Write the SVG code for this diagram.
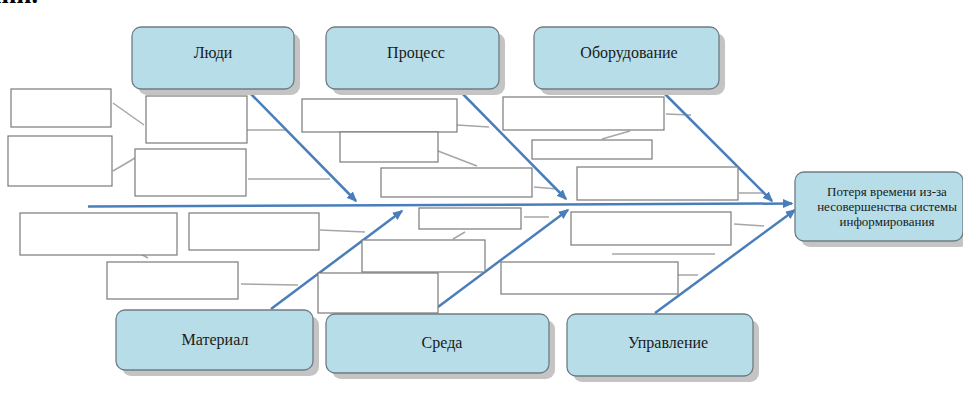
<svg xmlns="http://www.w3.org/2000/svg" width="963" height="403" viewBox="0 0 963 403">
<style>
.cat{fill:#b7dde8;stroke:#6f7c82;stroke-width:1.3}
.sh{fill:#c4c4c4}
.lbl{font-family:"Liberation Serif","Times New Roman",serif;font-size:16px;fill:#1a1a1a;text-anchor:middle}
.eff{font-family:"Liberation Serif","Times New Roman",serif;font-size:13px;fill:#1a1a1a;text-anchor:middle}
.bx{fill:#ffffff;stroke:#7a7a7a;stroke-width:1.2}
.g{stroke:#a6a6a6;stroke-width:1.5;fill:none}
.b{stroke:#4a7ebb;stroke-width:2.5;fill:none}
</style>
<defs>
<marker id="ah" markerWidth="4.2" markerHeight="3.6" refX="6" refY="3" orient="auto" markerUnits="strokeWidth" viewBox="0 0 7 6">
<path d="M0,0 L7,3 L0,6 Z" fill="#4a7ebb"/>
</marker>
</defs>
<rect width="963" height="403" fill="#ffffff"/>
<text x="38" y="3" font-family="Liberation Serif,serif" font-size="26" font-weight="bold" text-anchor="end" fill="#000">нии.</text>

<g id="connectors">
<line class="g" x1="113" y1="103" x2="144" y2="125"/>
<line class="g" x1="113" y1="171" x2="135" y2="158"/>
<line class="g" x1="247" y1="130" x2="287" y2="130"/>
<line class="g" x1="248" y1="179" x2="330" y2="179"/>
<line class="g" x1="457" y1="125" x2="489" y2="127"/>
<line class="g" x1="438" y1="151" x2="477" y2="166"/>
<line class="g" x1="534" y1="187" x2="557" y2="189"/>
<line class="g" x1="666" y1="114" x2="691" y2="115"/>
<line class="g" x1="602" y1="139" x2="630" y2="131"/>
<line class="g" x1="739" y1="193" x2="763" y2="193"/>
<line class="g" x1="135" y1="251" x2="148" y2="258"/>
<line class="g" x1="320" y1="230" x2="365" y2="232"/>
<line class="g" x1="241" y1="284" x2="298" y2="285"/>
<line class="g" x1="524" y1="217" x2="549" y2="217"/>
<line class="g" x1="453" y1="239" x2="465" y2="232"/>
<line class="g" x1="734" y1="224" x2="764" y2="226"/>
<line class="g" x1="612" y1="254" x2="715" y2="254"/>
<line class="g" x1="678" y1="275" x2="698" y2="275"/>
<line class="b" x1="88" y1="206.5" x2="792" y2="203.5" marker-end="url(#ah)"/>
<line class="b" x1="250" y1="93" x2="356" y2="201" marker-end="url(#ah)"/>
<line class="b" x1="458" y1="89" x2="566" y2="199" marker-end="url(#ah)"/>
<line class="b" x1="663" y1="92" x2="772" y2="201" marker-end="url(#ah)"/>
<line class="b" x1="271" y1="309" x2="402" y2="211" marker-end="url(#ah)"/>
<line class="b" x1="438" y1="307" x2="568" y2="210" marker-end="url(#ah)"/>
<line class="b" x1="655" y1="313" x2="795" y2="210" marker-end="url(#ah)"/>
</g>

<g id="cause-boxes">
<rect class="bx" x="11" y="89" width="100" height="38"/>
<rect class="bx" x="8" y="136" width="104" height="50"/>
<rect class="bx" x="146" y="96" width="101" height="47"/>
<rect class="bx" x="135" y="149" width="111" height="47"/>
<rect class="bx" x="302" y="99" width="155" height="33"/>
<rect class="bx" x="340" y="132" width="98" height="30"/>
<rect class="bx" x="381" y="168" width="151" height="29"/>
<rect class="bx" x="503" y="97" width="161" height="33"/>
<rect class="bx" x="532" y="140" width="120" height="19"/>
<rect class="bx" x="577" y="167" width="161" height="33"/>
<rect class="bx" x="20" y="213" width="157" height="42"/>
<rect class="bx" x="189" y="213" width="130" height="37"/>
<rect class="bx" x="107" y="262" width="131" height="37"/>
<rect class="bx" x="318" y="273" width="120" height="40"/>
<rect class="bx" x="362" y="240" width="123" height="32"/>
<rect class="bx" x="419" y="208" width="102" height="21"/>
<rect class="bx" x="571" y="212" width="160" height="33"/>
<rect class="bx" x="501" y="262" width="177" height="32"/>
</g>

<g id="people">
<rect class="sh" x="138" y="33" width="162" height="62" rx="9"/>
<rect class="cat" x="132" y="27" width="162" height="62" rx="9"/>
<text class="lbl" x="213" y="58">Люди</text>
</g>
<g id="process">
<rect class="sh" x="332" y="33" width="173" height="62" rx="9"/>
<rect class="cat" x="326" y="27" width="173" height="62" rx="9"/>
<text class="lbl" x="416" y="58">Процесс</text>
</g>
<g id="equipment">
<rect class="sh" x="540" y="33" width="185" height="62" rx="9"/>
<rect class="cat" x="534" y="27" width="185" height="62" rx="9"/>
<text class="lbl" x="629" y="58">Оборудование</text>
</g>
<g id="effect">
<rect class="sh" x="801" y="178" width="168" height="69" rx="9"/>
<rect class="cat" x="795" y="172" width="168" height="69" rx="9"/>
<text class="eff" x="887" y="196">Потеря времени из-за</text>
<text class="eff" x="887" y="211">несовершенства системы</text>
<text class="eff" x="887" y="226">информирования</text>
</g>
<g id="material">
<rect class="sh" x="122" y="316" width="197" height="60" rx="9"/>
<rect class="cat" x="116" y="310" width="197" height="60" rx="9"/>
<text class="lbl" x="215" y="345">Материал</text>
</g>
<g id="environment">
<rect class="sh" x="332" y="320" width="223" height="59" rx="9"/>
<rect class="cat" x="326" y="314" width="223" height="59" rx="9"/>
<text class="lbl" x="442" y="348">Среда</text>
</g>
<g id="management">
<rect class="sh" x="573" y="320" width="186" height="62" rx="9"/>
<rect class="cat" x="567" y="314" width="186" height="62" rx="9"/>
<text class="lbl" x="668" y="348">Управление</text>
</g>
</svg>
